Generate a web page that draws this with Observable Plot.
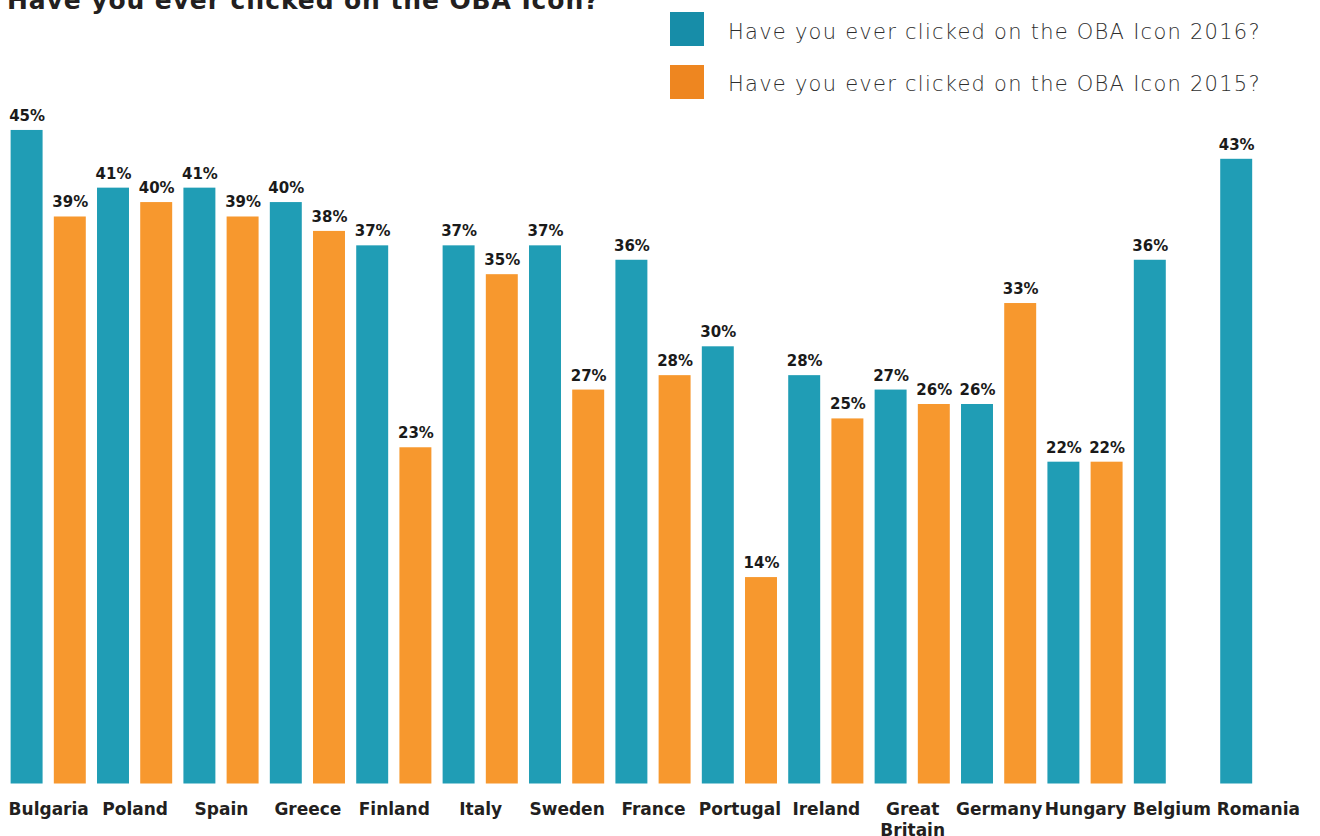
<!DOCTYPE html>
<html>
<head>
<meta charset="utf-8">
<script src="https://cdn.jsdelivr.net/npm/d3@7"></script>
<script src="https://cdn.jsdelivr.net/npm/@observablehq/plot@0.6"></script>
<style>
  html, body { margin: 0; padding: 0; background: #fff; }
  #page { width: 1320px; height: 836px; overflow: hidden; position: relative; }
  #header { position: relative; width: 1320px; height: 100px; }
  #title { position: absolute; left: 7px; top: -12px; line-height: 26px; font-family: "DejaVu Sans", sans-serif; font-weight: bold; font-size: 25px; letter-spacing: 0.9px; color: #231f20; white-space: nowrap; }
  .sw { position: absolute; left: 670px; width: 34px; height: 34px; }
  .lt { position: absolute; left: 728px; line-height: 20px; font-family: "DejaVu Sans", sans-serif; font-weight: 300; font-size: 21px; letter-spacing: 1.25px; color: #2e2e2e; white-space: nowrap; }
</style>
</head>
<body>
<div id="page">
  <div id="header">
    <div id="title">Have you ever clicked on the OBA Icon?</div>
    <div id="legend"></div>
  </div>
  <div id="chart"></div>
</div>
<script>
const countries = ["Bulgaria","Poland","Spain","Greece","Finland","Italy","Sweden","France","Portugal","Ireland","Great Britain","Germany","Hungary","Belgium","Romania"];
const values2016 = [45,41,41,40,37,37,37,36,30,28,27,26,22,36,43];
const values2015 = [39,40,39,38,23,35,27,28,14,25,26,33,22,null,null];
const series = ["2016","2015"];
const seriesLabels = ["Have you ever clicked on the OBA Icon 2016?","Have you ever clicked on the OBA Icon 2015?"];
const barColors = ["#209db5","#f7982e"];
const legendColors = ["#178da8","#ee8620"];

const data = [];
countries.forEach((c, i) => {
  if (values2016[i] != null) data.push({country: c, year: "2016", value: values2016[i]});
  if (values2015[i] != null) data.push({country: c, year: "2015", value: values2015[i]});
});

// legend
const legend = document.getElementById("legend");
const swTops = [12, 65];
const txTops = [22, 74];
series.forEach((s, i) => {
  const sw = document.createElement("div");
  sw.className = "sw";
  sw.style.top = swTops[i] + "px";
  sw.style.background = legendColors[i];
  legend.appendChild(sw);
  const t = document.createElement("div");
  t.className = "lt";
  t.style.top = txTops[i] + "px";
  t.textContent = seriesLabels[i];
  legend.appendChild(t);
});

const chart = Plot.plot({
  width: 1320,
  height: 736,
  marginLeft: 5,
  marginRight: 19,
  marginTop: 20,
  marginBottom: 57,
  style: {fontFamily: "DejaVu Sans, sans-serif", background: "white"},
  fx: {domain: countries, padding: 0, round: false, label: null},
  x: {domain: series, paddingInner: 0.26, paddingOuter: 0.13, round: false, axis: null},
  y: {domain: [0, 45.69], axis: null},
  color: {domain: series, range: barColors},
  marks: [
    Plot.barY(data, {fx: "country", x: "year", y: "value", fill: "year", insetBottom: -4.5}),
    Plot.text(data, {
      fx: "country", x: "year", y: "value",
      text: d => d.value + "%",
      dy: -9.5, lineAnchor: "bottom",
      fontSize: 15, fontWeight: "bold", fill: "#1a1a1a"
    }),
    Plot.axisFx({
      anchor: "bottom", tickSize: 0, tickPadding: 20.5, label: null,
      fontSize: 17, fontWeight: "bold", fill: "#231f20",
      lineHeight: 1.24,
      tickFormat: d => d === "Great Britain" ? "Great\nBritain" : d
    })
  ]
});
document.getElementById("chart").appendChild(chart);
</script>
</body>
</html>
